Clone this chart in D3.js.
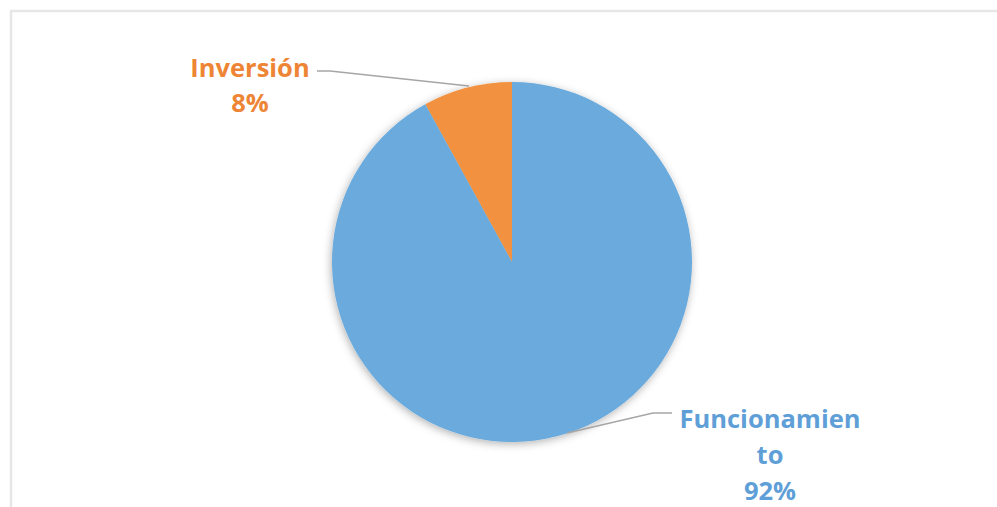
<!DOCTYPE html>
<html><head><meta charset="utf-8">
<script src="https://cdn.jsdelivr.net/npm/d3@7"></script>
<style>html,body{margin:0;padding:0;background:#fff;}</style>
</head><body>
<svg id="chart" width="997" height="507"></svg>
<script>
const categories = ["Inversión", "Funcionamiento"];
const values = [8, 92];
const labelLines = [["Inversión", "8%"], ["Funcionamien", "to", "92%"]];
const sliceColors = ["#f2923f", "#6aaadc"];
const textColors = ["#ee8535", "#5f9fd8"];

const svg = d3.select("#chart");
// chart area border
svg.append("rect").attr("x", 11).attr("y", 11).attr("width", 1000).attr("height", 520)
  .attr("fill", "#fff").attr("stroke", "#e6e6e6").attr("stroke-width", 2.5);

const defs = svg.append("defs");
const f = defs.append("filter").attr("id", "sh").attr("x", "-20%").attr("y", "-20%").attr("width", "140%").attr("height", "140%");
f.append("feDropShadow").attr("dx", -1).attr("dy", 2).attr("stdDeviation", 4).attr("flood-color", "#000").attr("flood-opacity", 0.3);

const cx = 512, cy = 262, r = 180;
// Inversión slice sits to the left of 12 o'clock
const pie = d3.pie().sort(null).value(d => d)
  .startAngle(-2 * Math.PI * values[0] / d3.sum(values))
  .endAngle(2 * Math.PI - 2 * Math.PI * values[0] / d3.sum(values));
const arcs = pie(values);
const arc = d3.arc().innerRadius(0).outerRadius(r);

const g = svg.append("g").attr("transform", `translate(${cx},${cy})`);
g.append("g").attr("filter", "url(#sh)").selectAll("path").data(arcs).join("path")
  .attr("d", arc).attr("fill", (d, i) => sliceColors[i]);

// leader lines
const leaders = [
  [[317, 71], [330, 71], [469, 86]],
  [[567, 433], [653, 413], [672, 413]]
];
svg.selectAll("path.lead").data(leaders).join("path").attr("class", "lead")
  .attr("d", d => d3.line()(d)).attr("fill", "none").attr("stroke", "#a6a6a6").attr("stroke-width", 1.5);

// labels
const labelPos = [{x: 250, y: 77, dy: 35}, {x: 770, y: 428, dy: 36}];
labelLines.forEach((lines, i) => {
  const t = svg.append("text").attr("text-anchor", "middle")
    .attr("font-family", "'Open Sans', 'Noto Sans', sans-serif").attr("font-weight", "bold")
    .attr("font-size", 25.5).attr("fill", textColors[i]);
  lines.forEach((s, j) => {
    t.append("tspan").attr("x", labelPos[i].x).attr("y", labelPos[i].y + j * labelPos[i].dy).text(s);
  });
});
</script>
</body></html>
